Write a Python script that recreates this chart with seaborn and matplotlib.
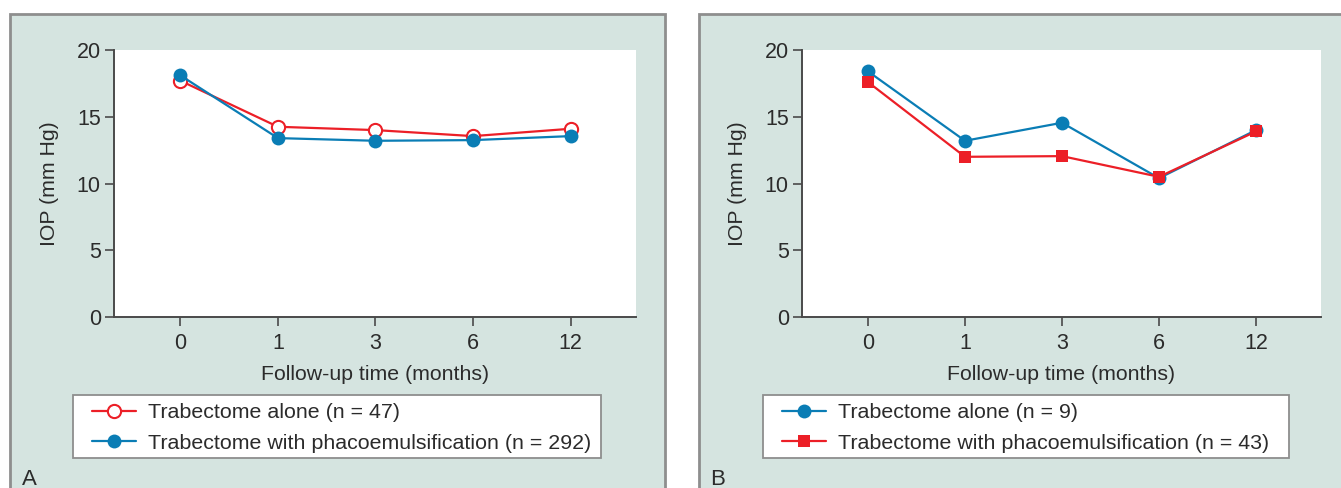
import numpy as np
import pandas as pd
import matplotlib
matplotlib.use("Agg")
import matplotlib.pyplot as plt
from matplotlib.patches import Rectangle
from matplotlib.lines import Line2D
import seaborn as sns

# ------------- Data -------------
months = ['0', '1', '3', '6', '12']

# Panel A
a_alone = [17.7, 14.25, 14.0, 13.55, 14.1]
a_phaco = [18.1, 13.4, 13.2, 13.25, 13.55]
a_labels = ['Trabectome alone (n = 47)', 'Trabectome with phacoemulsification (n = 292)']

# Panel B
b_alone = [18.4, 13.2, 14.55, 10.4, 14.0]
b_phaco = [17.6, 12.0, 12.05, 10.5, 13.9]
b_labels = ['Trabectome alone (n = 9)', 'Trabectome with phacoemulsification (n = 43)']

# ------------- Style -------------
sns.set_theme(style='ticks')
plt.rcParams['font.family'] = ['Liberation Sans', 'DejaVu Sans']

RED = '#ec1f27'
BLUE = '#0a7db5'
BG = '#d5e4e0'
EDGE = '#8e8e8e'
INK = '#2b2b2b'
SPINE = '#4a4a4a'

W, H = 1341, 488
fig = plt.figure(figsize=(W / 100, H / 100), dpi=100)
fig.patch.set_facecolor('white')


def px(x0, y0, x1, y1):
    # pixel box (top-left origin) -> figure fraction [l, b, w, h]
    return [x0 / W, 1 - y1 / H, (x1 - x0) / W, (y1 - y0) / H]


# panel backgrounds (behind the axes)
for x0, x1 in [(10, 665), (699, 1345)]:
    l, b, w, h = px(x0, 14, x1, 500)
    fig.patches.append(Rectangle((l, b), w, h, transform=fig.transFigure,
                                 facecolor=BG, edgecolor=EDGE, linewidth=2, zorder=-5))


def draw_panel(box, s1, s2, labels, legend_box, letter, letter_x):
    ax = fig.add_axes(px(*box))
    ax.set_zorder(2)
    ax.set_facecolor('white')
    pos = np.arange(len(months))
    df1 = pd.DataFrame({'pos': pos, 'iop': s1[0]})
    df2 = pd.DataFrame({'pos': pos, 'iop': s2[0]})
    sns.lineplot(data=df1, x='pos', y='iop', ax=ax, **s1[1])
    sns.lineplot(data=df2, x='pos', y='iop', ax=ax, **s2[1])

    ax.set_xlim(-0.68, 4.67)
    ax.set_ylim(0, 20)
    ax.set_xticks(pos)
    ax.set_xticklabels(months)
    ax.set_yticks([0, 5, 10, 15, 20])
    ax.tick_params(axis='both', length=6.5, width=1.2, color=SPINE,
                   labelsize=15.5, labelcolor=INK)
    ax.tick_params(axis='x', pad=5)
    ax.tick_params(axis='y', pad=3)
    for side in ['top', 'right']:
        ax.spines[side].set_visible(False)
    for side in ['left', 'bottom']:
        ax.spines[side].set_color(SPINE)
        ax.spines[side].set_linewidth(1.4)
    ax.set_xlabel('Follow-up time (months)', fontsize=15.3, color=INK, labelpad=8)
    ax.set_ylabel('IOP (mm Hg)', fontsize=15.3, color=INK, labelpad=13)

    # legend box drawn by hand, legend entries placed inside it
    x0, y0, x1, y1 = legend_box
    l, b, w, h = px(x0, y0, x1, y1)
    fig.patches.append(Rectangle((l, b), w, h, transform=fig.transFigure,
                                 facecolor='white', edgecolor=EDGE, linewidth=1.3, zorder=1))
    handles = [Line2D([], [], **s1[1]), Line2D([], [], **s2[1])]
    leg = fig.legend(handles, labels, loc='upper left',
                     bbox_to_anchor=((x0 + 19) / W, 1 - (y0 + 8) / H),
                     bbox_transform=fig.transFigure, fontsize=15.4, frameon=False,
                     handlelength=2.06, handletextpad=0.56,
                     labelspacing=0.55, borderpad=0, borderaxespad=0)
    leg.set_zorder(3)
    for t in leg.get_texts():
        t.set_color(INK)

    fig.text(letter_x / W, 1 - 485 / H, letter, fontsize=16, color=INK,
             ha='left', va='baseline')
    return ax


red_open = dict(color=RED, marker='o', markersize=9.5, markerfacecolor='white',
                markeredgecolor=RED, markeredgewidth=1.5, linewidth=1.6)
blue_dot = dict(color=BLUE, marker='o', markersize=10, markerfacecolor=BLUE,
                markeredgecolor=BLUE, markeredgewidth=0, linewidth=1.6)
red_square = dict(color=RED, marker='s', markersize=8.5, markerfacecolor=RED,
                  markeredgecolor=RED, markeredgewidth=0, linewidth=1.6)

draw_panel((114, 50, 636, 317), (a_alone, red_open), (a_phaco, blue_dot),
           a_labels, (73, 395, 601, 458), 'A', 22)
draw_panel((802, 50, 1321, 317), (b_alone, blue_dot), (b_phaco, red_square),
           b_labels, (763, 395, 1289, 458), 'B', 710)

fig.savefig('out.png', dpi=100, facecolor=fig.get_facecolor())
